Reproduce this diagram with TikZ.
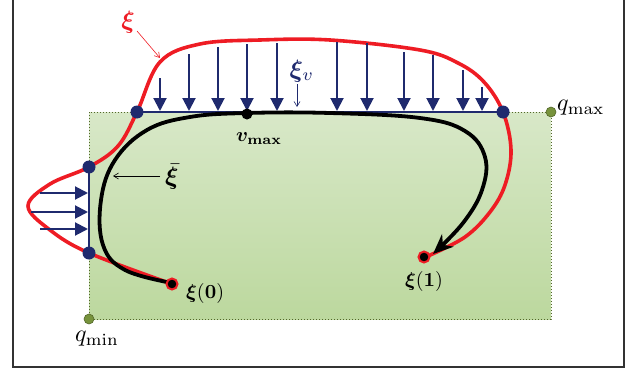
\documentclass[tikz,border=0pt]{standalone}
\usepackage{amsmath,bm}
\usetikzlibrary{arrows.meta}
\definecolor{myred}{HTML}{EE1C24}
\definecolor{navy}{HTML}{1F2A6E}
\definecolor{olive}{HTML}{77933C}
\definecolor{gtop}{HTML}{D8E8C8}
\definecolor{gbot}{HTML}{BCD89E}
\begin{document}
\begin{tikzpicture}[x=1pt,y=-1pt,
  bluedot/.style={circle,fill=navy,inner sep=0pt,minimum size=13pt},
  greendot/.style={circle,fill=olive,draw=olive!70!black,line width=0.6pt,inner sep=0pt,minimum size=10pt},
  ringdot/.style={circle,fill=black,draw=myred,line width=2pt,inner sep=0pt,minimum size=11pt},
  blackdot/.style={circle,fill=black,inner sep=0pt,minimum size=11pt},
  bluearr/.style={navy,line width=2pt,-{Triangle[width=13pt,length=13pt]}},
  thinarr/.style={line width=0.6pt,-{Straight Barb[length=5pt,width=6pt]}},
  lbl/.style={inner sep=0pt,font=\normalsize}]
\useasboundingbox (0,0) rectangle (629,372);
% frame
\draw[line width=1.2pt,black!80] (13,-5) -- (13,367) -- (624,367) -- (624,-5);
% green box
\shade[top color=gtop,bottom color=gbot] (89,112) rectangle (551,319);
\draw[olive!70!black,dotted,line width=1pt] (137,112) -- (551,112) -- (551,319) -- (89,319) -- (89,253);
\draw[olive!70!black,dotted,line width=1pt] (89,167) -- (89,112) -- (137,112);
% red curve
\draw[myred,line width=3.6pt,line join=round] plot[smooth,tension=0.6] coordinates {
 (172,284) (89,253) (50,230) (28,206) (50,184) (89,167)
 (118,146) (137,112) (160,62) (200,44) (260,40) (330,40)
 (420,50) (458,63) (484,82) (503,112) (511,150) (505,185) (490,212) (465,237) (428,256)};
% blue lines
\node[bluedot] (bL) at (137,112) {};
\node[bluedot] (bR) at (503,112) {};
\node[bluedot] (bT) at (89,167) {};
\node[bluedot] (bB) at (89,253) {};
\draw[navy,line width=2.2pt] (bL.center) -- (bR.center);
\draw[navy,line width=2.2pt] (bT.center) -- (bB.center);
% down arrows
\foreach \x/\t in {160/78,189/54,218/47,247/44,277/43,337/42,367/43,404/52,433/55,463/70,482/87}
  \draw[bluearr] (\x,\t) -- (\x,111);
% right arrows
\draw[bluearr] (40,193) -- (88,193);
\draw[bluearr] (31,212) -- (88,212);
\draw[bluearr] (40,229) -- (88,229);
% black curve
\draw[line width=3.8pt,-{Stealth[length=20pt,width=17pt]}] plot[smooth,tension=0.65] coordinates {
 (172,283) (125,270) (103,245) (101,200) (115,160) (147,130) (190,117)
 (247,113) (330,113) (420,118) (465,131) (485,157) (482,190) (463,223) (433,254)};
\node[blackdot] (vmax) at (247,114) {};
\node[ringdot] (x0) at (172,284) {};
\node[ringdot] (x1) at (424,257) {};
% green dots
\node[greendot] (qmax) at (551,112) {};
\node[greendot] (qmin) at (89,319) {};
% labels
\node[lbl,anchor=west] at (557,108) {\scalebox{2.4}{$q_{\mathrm{max}}$}};
\node[lbl] at (97,339) {\scalebox{2.4}{$q_{\mathrm{min}}$}};
\node[lbl,text=myred] (xi) at (128,22) {\scalebox{2.5}{$\bm{\xi}$}};
\draw[thinarr,myred] (137,31) -- (160,58);
\node[lbl,anchor=west] (xibar) at (165,177) {\scalebox{2.5}{$\bar{\bm{\xi}}$}};
\draw[thinarr] (160,176) -- (113,176);
\node[lbl,text=navy] (xiv) at (302,71) {\scalebox{2.5}{$\bm{\xi}_{v}$}};
\draw[thinarr,navy] (297,84) -- (297,107);
\node[lbl] at (259,139) {\scalebox{2}{$\bm{v}_{\mathbf{max}}$}};
\node[lbl,anchor=west] at (186,293) {\scalebox{2}{$\bm{\xi}(\mathbf{0})$}};
\node[lbl] at (424,281) {\scalebox{2}{$\bm{\xi}(\mathbf{1})$}};
\end{tikzpicture}
\end{document}
